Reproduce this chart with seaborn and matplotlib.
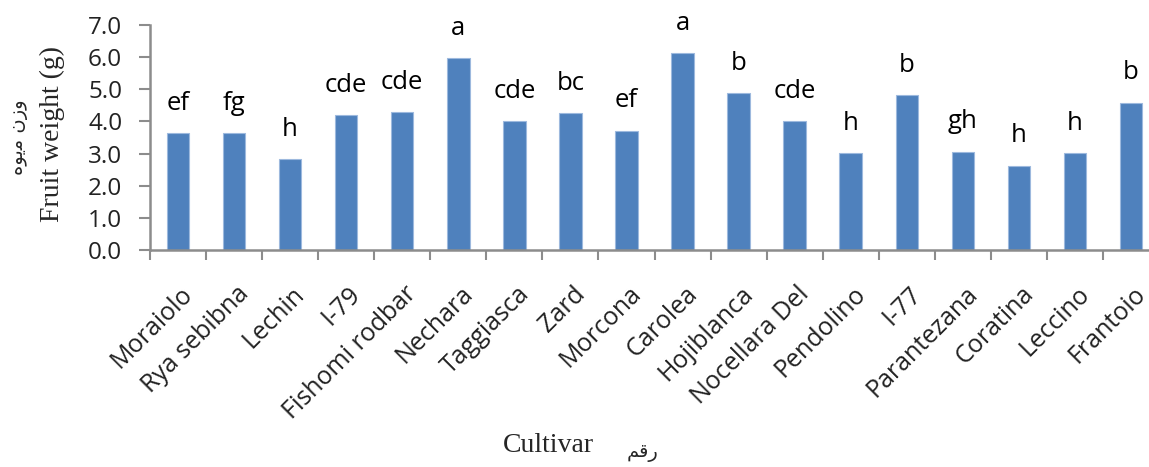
import numpy as np
import matplotlib
matplotlib.use('Agg')
import matplotlib.pyplot as plt
import matplotlib.transforms as mtransforms
import seaborn as sns

# ---------------------
# Data
# ---------------------
cultivars = ['Moraiolo', 'Rya sebibna', 'Lechin', 'I-79', 'Fishomi rodbar',
             'Nechara', 'Taggiasca', 'Zard', 'Morcona', 'Carolea',
             'Hojiblanca', 'Nocellara Del', 'Pendolino', 'I-77',
             'Parantezana', 'Coratina', 'Leccino', 'Frantoio']
fruit_weight = [3.63, 3.63, 2.82, 4.20, 4.29, 5.97, 4.01, 4.25, 3.71,
                6.12, 4.87, 4.00, 3.01, 4.82, 3.05, 2.62, 3.01, 4.58]
letters = ['ef', 'fg', 'h', 'cde', 'cde', 'a', 'cde', 'bc', 'ef',
           'a', 'b', 'cde', 'h', 'b', 'gh', 'h', 'h', 'b']
y_ticks = [0, 1, 2, 3, 4, 5, 6, 7]

# Arabic written with presentation forms (matplotlib does no shaping)
ylabel_fa = '\uFEE9\uFEEE\uFBFE\uFEE3 \uFEE5\uFEAF\uFEED'   # وزن میوه
xlabel_fa = '\uFEE2\uFED7\uFEAD'                            # رقم

# ---------------------
# Plot
# ---------------------
sns.set_style('white')
plt.rcParams['font.family'] = ['Open Sans', 'DejaVu Sans']

fig = plt.figure(figsize=(11.49, 4.67), dpi=100)
ax = fig.add_axes([150 / 1149, 217 / 467, 1009 / 1149, 225 / 467])

sns.barplot(x=cultivars, y=fruit_weight, color='#4F81BD', saturation=1,
            width=0.4, edgecolor='#9DB9DE', linewidth=0.8, ax=ax)

for i, (w, lab) in enumerate(zip(fruit_weight, letters)):
    ax.text(i, w + 0.73, lab, ha='center', va='baseline', fontsize=18.5,
            color='black')

ax.set_xlim(-0.5, len(cultivars) - 0.5)
ax.set_ylim(0, 7)
ax.set_yticks(y_ticks)
ax.set_yticklabels([f'{v:.1f}' for v in y_ticks])

# category labels on the centres, tick marks on the boundaries
ax.set_xticks(range(len(cultivars)))
ax.set_xticklabels(cultivars, rotation=45, ha='right', va='center',
                   rotation_mode='anchor')
ax.set_xticks(np.arange(-0.5, len(cultivars)), minor=True)
ax.tick_params(axis='x', which='major', length=0, pad=29,
               labelsize=18, labelcolor='#222222')
ax.tick_params(axis='x', which='minor', direction='out', length=7,
               width=1.5, color='#8c8c8c', bottom=True)
ax.tick_params(axis='y', direction='out', length=8, width=1.5,
               color='#8c8c8c', labelsize=17.5, labelcolor='#222222', pad=12,
               left=True)

offset = mtransforms.ScaledTranslation(11 / 100, 0, fig.dpi_scale_trans)
for lbl in ax.get_xticklabels():
    lbl.set_transform(lbl.get_transform() + offset)

for side in ['top', 'right']:
    ax.spines[side].set_visible(False)
for side in ['left', 'bottom']:
    ax.spines[side].set_color('#8c8c8c')
    ax.spines[side].set_linewidth(1.8)

ax.set_xlabel('')
ax.set_ylabel('')

# axis titles (English in serif, Persian beside it)
fig.text(52 / 1149, 1 - 134 / 467, 'Fruit weight (g)', rotation=90,
         ha='center', va='center', fontsize=20, family='Liberation Serif')
fig.text(19 / 1149, 1 - 137 / 467, ylabel_fa, rotation=90,
         ha='center', va='center', fontsize=14, family='DejaVu Sans')
fig.text(548 / 1149, 1 - 446 / 467, 'Cultivar', ha='center', va='center',
         fontsize=20, family='Liberation Serif')
fig.text(643 / 1149, 1 - 452 / 467, xlabel_fa, ha='center', va='center',
         fontsize=14, family='DejaVu Sans')

fig.savefig('out.png', dpi=100)
